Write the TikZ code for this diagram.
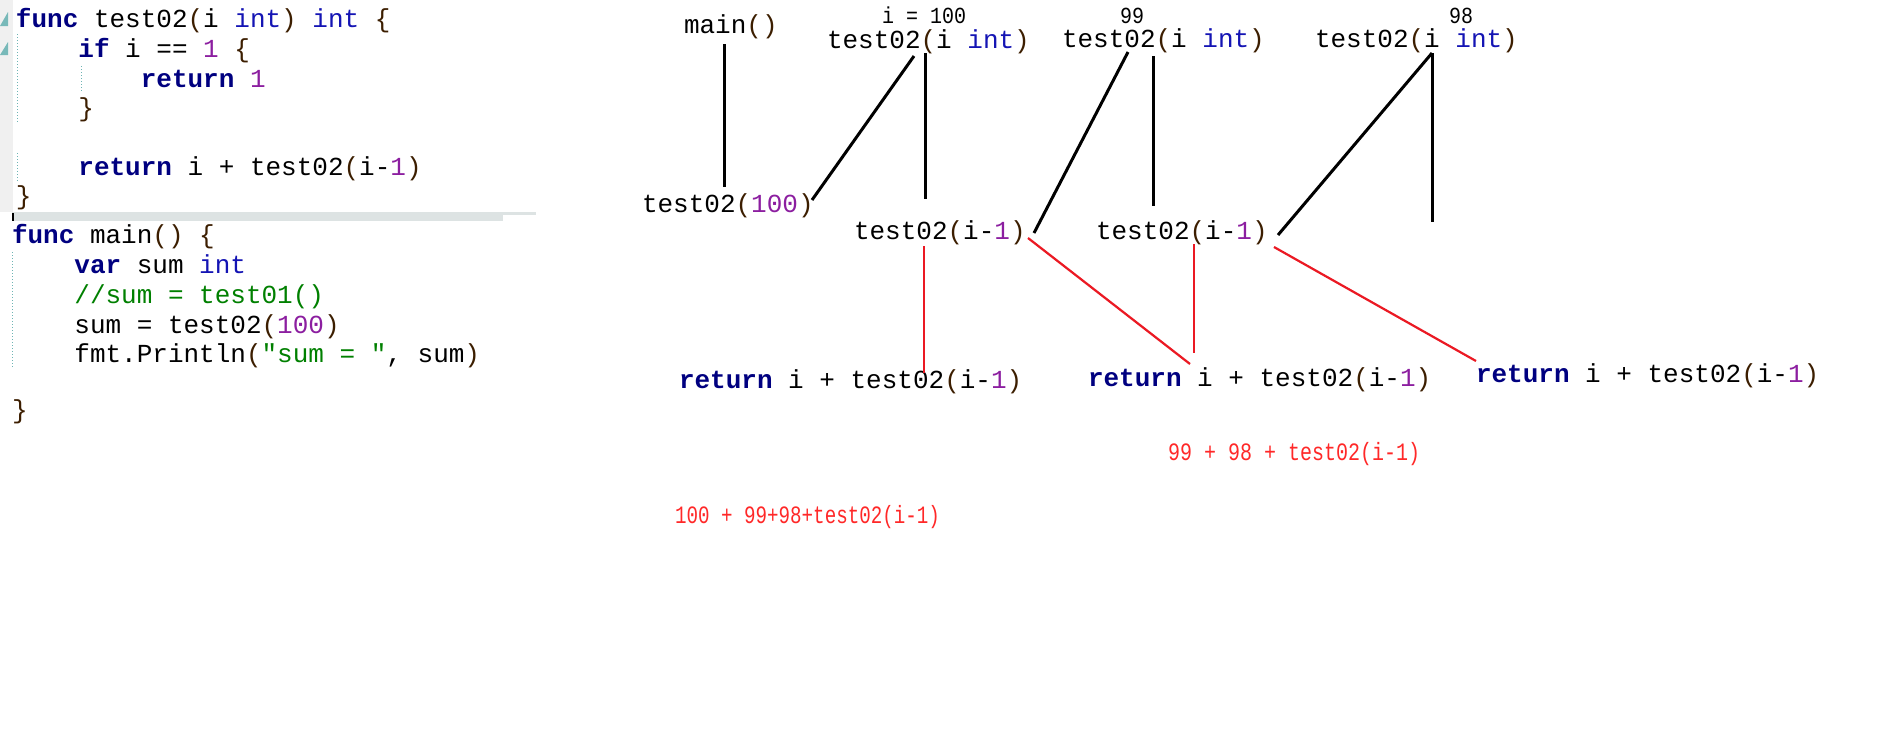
\documentclass[tikz,border=0pt]{standalone}
\usepackage{fontspec}
\setmainfont{Liberation Serif}
\newfontfamily\cf{Liberation Mono}
\definecolor{kwc}{RGB}{0,0,128}
\definecolor{typc}{RGB}{20,20,180}
\definecolor{numc}{RGB}{140,30,160}
\definecolor{grnc}{RGB}{0,128,0}
\definecolor{brc}{RGB}{60,30,0}
\definecolor{redtxt}{RGB}{255,40,40}
\definecolor{redln}{RGB}{235,25,35}
\definecolor{margc}{RGB}{240,240,240}
\definecolor{tric}{RGB}{120,185,185}
\definecolor{guidec}{RGB}{110,180,180}
\definecolor{barc}{RGB}{221,227,227}
\newcommand\kwd[1]{\textcolor{kwc}{\bfseries #1}}
\newcommand\ctyp[1]{\textcolor{typc}{#1}}
\newcommand\cnum[1]{\textcolor{numc}{#1}}
\newcommand\cgrn[1]{\textcolor{grnc}{#1}}
\newcommand\cbr[1]{\textcolor{brc}{#1}}
\frenchspacing
\tikzset{
  code/.style={anchor=base west, inner sep=0pt, outer sep=0pt, font=\cf\fontsize{13}{15}\selectfont},
  lbl/.style={anchor=base, inner sep=0pt, outer sep=0pt, font=\cf\fontsize{10}{12}\selectfont},
  redlbl/.style={anchor=base west, inner sep=0pt, outer sep=0pt, text=redtxt, font=\cf\fontsize{10}{12}\selectfont},
  blkline/.style={line width=1.5pt, black},
  redline/.style={line width=1.1pt, redln},
  guide/.style={guidec, line width=0.5pt, dash pattern=on 0.5pt off 1pt},
}
\begin{document}
\begin{tikzpicture}[x=0.5pt,y=-0.5pt]
\useasboundingbox (0,0) rectangle (1889,752);
\fill[white] (0,0) rectangle (1889,752);
% editor decorations
\fill[margc] (0,0) rectangle (12.5,212);
\fill[tric] (0,26) -- (8,12) -- (8,26) -- cycle;
\fill[tric] (0,55) -- (8,42) -- (8,55) -- cycle;
\draw[guide] (17,34) -- (17,123);
\draw[guide] (17,153) -- (17,182);
\draw[guide] (81,66) -- (81,93);
\draw[guide] (12.5,252) -- (12.5,367);
\fill[barc] (12,212) rectangle (503,221);
\fill[barc] (503,212) rectangle (536,215);
\fill[black] (12,213) rectangle (14,221);
% code: test02
\node[code] (c1) at (16,27) {\kwd{func} test02\cbr{(}i \ctyp{int}\cbr{)} \ctyp{int} \cbr{\{}};
\node[code] (c2) at (78.4,57) {\kwd{if} i == \cnum{1} \cbr{\{}};
\node[code] (c3) at (140.8,87) {\kwd{return} \cnum{1}};
\node[code] (c4) at (78.4,116) {\cbr{\}}};
\node[code] (c5) at (78.4,175) {\kwd{return} i + test02\cbr{(}i-\cnum{1}\cbr{)}};
\node[code] (c6) at (16,204) {\cbr{\}}};
% code: main
\node[code] (m1) at (12,243) {\kwd{func} main\cbr{()} \cbr{\{}};
\node[code] (m2) at (74.4,273) {\kwd{var} sum \ctyp{int}};
\node[code] (m3) at (74.4,303) {\cgrn{//sum = test01()}};
\node[code] (m4) at (74.4,333) {sum = test02\cbr{(}\cnum{100}\cbr{)}};
\node[code] (m5) at (74.4,362) {fmt.Println\cbr{(}\cgrn{"sum = "}, sum\cbr{)}};
\node[code] (m6) at (12,418) {\cbr{\}}};
% diagram texts
\node[code] (main) at (684,33) {main\cbr{()}};
\node[lbl] (v100) at (924,23) {\scalebox{1}[1.15]{i = 100}};
\node[code] (f1) at (827,48) {test02\cbr{(}i \ctyp{int}\cbr{)}};
\node[code] (call) at (642,212) {test02\cbr{(}\cnum{100}\cbr{)}};
\node[code] (r1) at (854,239) {test02\cbr{(}i-\cnum{1}\cbr{)}};
\node[lbl] (v99) at (1132,23) {\scalebox{1}[1.15]{99}};
\node[code] (f2) at (1062,47) {test02\cbr{(}i \ctyp{int}\cbr{)}};
\node[code] (r2) at (1096,239) {test02\cbr{(}i-\cnum{1}\cbr{)}};
\node[lbl] (v98) at (1461,23) {\scalebox{1}[1.15]{98}};
\node[code] (f3) at (1315,47) {test02\cbr{(}i \ctyp{int}\cbr{)}};
\node[code] (ret1) at (679,388) {\kwd{return} i + test02\cbr{(}i-\cnum{1}\cbr{)}};
\node[code] (ret2) at (1088,386) {\kwd{return} i + test02\cbr{(}i-\cnum{1}\cbr{)}};
\node[code] (ret3) at (1476,382) {\kwd{return} i + test02\cbr{(}i-\cnum{1}\cbr{)}};
\node[redlbl] (sum2) at (1168,460) {\scalebox{1}[1.25]{99 + 98 + test02(i-1)}};
\node[redlbl] (sum1) at (675,523) {\fontsize{9.6}{12}\selectfont\scalebox{1}[1.3]{100 + 99+98+test02(i-1)}};
% connector end points
\coordinate (mainB) at (724.5,44);
\coordinate (callT) at (724.5,187);
\coordinate (f1a) at (914,56);
\coordinate (callE) at (812,200);
\coordinate (f1b) at (925,53);
\coordinate (r1T) at (925,199);
\coordinate (f2a) at (1128,52);
\coordinate (r1E) at (1034,233);
\coordinate (f2b) at (1153,56);
\coordinate (r2T) at (1153,206);
\coordinate (f3a) at (1432,53);
\coordinate (r2E) at (1278,235);
\coordinate (f3end) at (1432,222);
\coordinate (r1B) at (924,246);
\coordinate (ret1T) at (924,373);
\coordinate (r1R) at (1028,238);
\coordinate (ret2T) at (1190,364);
\coordinate (r2B) at (1194,244);
\coordinate (ret2M) at (1194,353);
\coordinate (r2R) at (1274,247);
\coordinate (ret3T) at (1476,361);
% black connectors
\draw[blkline] (mainB) -- (callT);
\draw[blkline] (f1a) -- (callE);
\draw[blkline] (f1b) -- (r1T);
\draw[blkline] (f2a) -- (r1E);
\draw[blkline] (f2b) -- (r2T);
\draw[blkline] (f3a) -- (r2E);
\draw[blkline] (f3a) -- (f3end);
% red connectors
\draw[redline] (r1B) -- (ret1T);
\draw[redline] (r1R) -- (ret2T);
\draw[redline] (r2B) -- (ret2M);
\draw[redline] (r2R) -- (ret3T);
\end{tikzpicture}
\end{document}
